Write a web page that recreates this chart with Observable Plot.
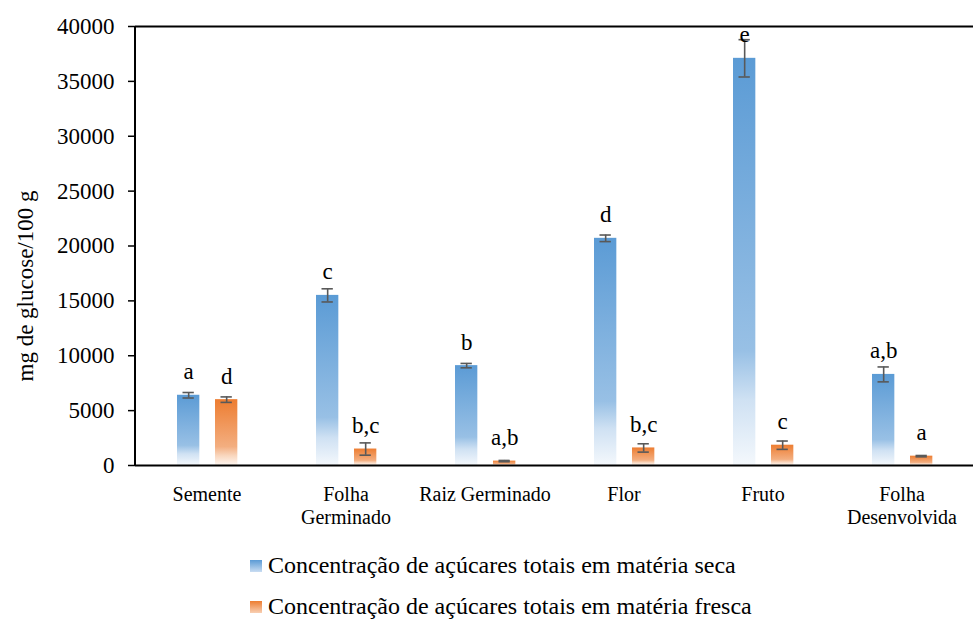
<!DOCTYPE html>
<html>
<head>
<meta charset="utf-8">
<script src="https://cdn.jsdelivr.net/npm/d3@7"></script>
<script src="https://cdn.jsdelivr.net/npm/@observablehq/plot@0.6"></script>
<style>
  html, body { margin: 0; padding: 0; background: #fff; }
  body { width: 973px; height: 619px; overflow: hidden; font-family: "Liberation Serif", Tinos, "Times New Roman", "DejaVu Serif", serif; }
  svg text { font-family: "Liberation Serif", Tinos, "Times New Roman", "DejaVu Serif", serif; }
  #legend { position: absolute; left: 250px; top: 545px; font-size: 24px; color: #000; }
  .item { display: flex; align-items: center; height: 41px; }
  .sw { width: 12px; height: 12px; margin-right: 6px; }
</style>
</head>
<body>
<div id="chart"></div>
<div id="legend"></div>
<script>
const categories = ["Semente", "Folha Germinado", "Raiz Germinado", "Flor", "Fruto", "Folha Desenvolvida"];
const tickLabels = ["Semente", "Folha\nGerminado", "Raiz Germinado", "Flor", "Fruto", "Folha\nDesenvolvida"];
const seriesNames = ["Concentração de açúcares totais em matéria seca", "Concentração de açúcares totais em matéria fresca"];
const seca = [6400, 15500, 9100, 20700, 37100, 8300];
const secaErr = [250, 600, 200, 300, 1700, 680];
const secaLetters = ["a", "c", "b", "d", "e", "a,b"];
const fresca = [6000, 1500, 400, 1600, 1850, 850];
const frescaErr = [250, 560, 60, 380, 380, 60];
const frescaLetters = ["d", "b,c", "a,b", "b,c", "c", "a"];
const yTicks = [0, 5000, 10000, 15000, 20000, 25000, 30000, 35000, 40000];

const dSeca = categories.map((c, i) => ({cat: c, v: seca[i], e: secaErr[i], l: secaLetters[i]}));
const dFresca = categories.map((c, i) => ({cat: c, v: fresca[i], e: frescaErr[i], l: frescaLetters[i]}));

const FONT = "'Liberation Serif', Tinos, 'Times New Roman', 'DejaVu Serif', serif";
const W = 973, H = 532, ML = 135, MR = 0, MT = 26, MB = 67;
const band = (W - ML - MR) / categories.length;
const bw = 23;
const bLeft = 40, oLeft = 78;
const bC = bLeft + bw / 2 - band / 2, oC = oLeft + bw / 2 - band / 2;
const cap = 6;
const errColor = "#595959";

function bars(data, left, fill) {
  return Plot.barY(data, {x: "cat", y: "v", fill, insetLeft: left, insetRight: band - left - bw});
}
function errs(data, center) {
  const c0 = band / 2 + center;
  return [
    Plot.ruleX(data, {x: "cat", y1: d => d.v - d.e, y2: d => d.v + d.e, dx: center, stroke: errColor, strokeWidth: 1.6}),
    Plot.tickY(data, {x: "cat", y: d => d.v - d.e, insetLeft: c0 - cap, insetRight: band - c0 - cap, stroke: errColor, strokeWidth: 1.6}),
    Plot.tickY(data, {x: "cat", y: d => d.v + d.e, insetLeft: c0 - cap, insetRight: band - c0 - cap, stroke: errColor, strokeWidth: 1.6})
  ];
}
function letters(data, center) {
  return Plot.text(data, {x: "cat", y: "v", text: "l", dx: center, dy: -16, lineAnchor: "bottom", fontSize: 23, fill: "#000"});
}

const svg = Plot.plot({
  width: W,
  height: H,
  marginLeft: ML,
  marginRight: MR,
  marginTop: MT,
  marginBottom: MB,
  style: {fontFamily: FONT, background: "#fff", color: "#000", overflow: "visible"},
  x: {domain: categories, padding: 0, label: null},
  y: {domain: [0, 40000], label: null},
  marks: [
    bars(dSeca, bLeft, "url(#gBlue)"),
    bars(dFresca, oLeft, "url(#gOrange)"),
    ...errs(dSeca, bC),
    ...errs(dFresca, oC),
    letters(dSeca, bC),
    letters(dFresca, oC),
    Plot.ruleY([0], {stroke: "#000", strokeWidth: 2}),
    Plot.ruleY([40000], {stroke: "#000", strokeWidth: 2}),
    Plot.axisY({ticks: yTicks, tickSize: 7, tickPadding: 14, fontSize: 23, tickFormat: d => String(d), label: null, stroke: "#000", strokeWidth: 1.5}),
    Plot.axisX({tickSize: 0, tickPadding: 19, fontSize: 20, tickFormat: d => tickLabels[categories.indexOf(d)], label: null, lineHeight: 1.15}),
    Plot.text(["mg de glucose/100 g"], {frameAnchor: "left", textAnchor: "middle", dx: -110, dy: 40, rotate: -90, fontSize: 23, fill: "#000"})
  ]
});

const defs = d3.select(svg).insert("defs", ":first-child");
function grad(id, stops) {
  const g = defs.append("linearGradient").attr("id", id).attr("x1", 0).attr("y1", 0).attr("x2", 0).attr("y2", 1);
  stops.forEach(([o, c]) => g.append("stop").attr("offset", o).attr("stop-color", c));
}
const blueStops = [[0, "#5B9BD5"], [0.72, "#98C0E5"], [0.84, "#CFE1F3"], [1, "#F4F8FC"]];
const orangeStops = [[0, "#ED7D31"], [0.72, "#F3AE80"], [0.86, "#F9D7BF"], [1, "#FEF6F0"]];
grad("gBlue", blueStops);
grad("gOrange", orangeStops);

// left axis line
d3.select(svg).append("line").attr("x1", ML).attr("x2", ML).attr("y1", MT).attr("y2", H - MB).attr("stroke", "#000").attr("stroke-width", 2);

document.getElementById("chart").appendChild(svg);

const legend = document.getElementById("legend");
[["linear-gradient(#5B9BD5, #C9DDF2)", seriesNames[0]], ["linear-gradient(#ED7D31, #F8CFB3)", seriesNames[1]]].forEach(([bg, name]) => {
  const it = document.createElement("div");
  it.className = "item";
  it.innerHTML = `<span class="sw" style="background:${bg}"></span><span>${name}</span>`;
  legend.appendChild(it);
});
</script>
</body>
</html>
